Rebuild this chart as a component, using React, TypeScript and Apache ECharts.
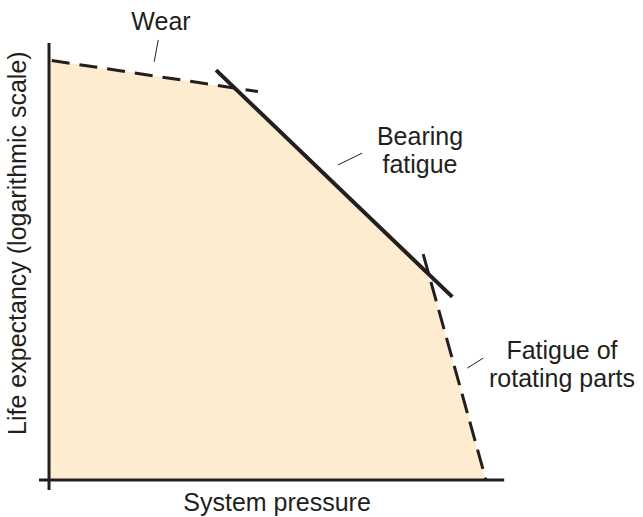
import React, { useEffect, useRef } from "react";
import * as echarts from "echarts";

// Conceptual units: pressure 0..100 (x), life expectancy 0..100 (y)
const envelope: [number, number][] = [
  [0, 96.1],
  [40.9, 89.7],
  [83.3, 47.6],
  [96.0, 0],
];
const wearLine: [number, number][] = [
  [0.6, 96.0],
  [45.9, 88.9],
];
const bearingLine: [number, number][] = [
  [36.7, 93.8],
  [88.6, 41.9],
];
const rotatingLine: [number, number][] = [
  [82.2, 51.7],
  [96.0, 0],
];
const xAxisLine: [number, number][] = [
  [-2.2, 0],
  [100, 0],
];
const yAxisLine: [number, number][] = [
  [0, -2.3],
  [0, 100],
];
const leaderWear: [number, number][] = [
  [24.0, 100.7],
  [23.1, 95.7],
];
const leaderBearing: [number, number][] = [
  [63.5, 72.1],
  [68.8, 74.8],
];
const leaderRotating: [number, number][] = [
  [91.9, 25.6],
  [95.4, 27.9],
];
const labels = [
  { text: "Wear", at: [24.6, 105.0], rot: 0, lh: 28 },
  { text: "Bearing\nfatigue", at: [81.5, 75.4], rot: 0, lh: 28 },
  { text: "Fatigue of\nrotating parts", at: [112.7, 26.5], rot: 0, lh: 28 },
  { text: "System pressure", at: [50.1, -5.0], rot: 0, lh: 28 },
  { text: "Life expectancy (logarithmic scale)", at: [-7.0, 54.2], rot: Math.PI / 2, lh: 28 },
];

const INK = "#231f20";
const FILL = "#fdecd0";
const FONT = "'Liberation Sans', Arial, sans-serif";

export default function App() {
  const ref = useRef<HTMLDivElement>(null);
  useEffect(() => {
    if (!ref.current) return;
    const chart = echarts.init(ref.current, undefined, { renderer: "svg" });
    const lineSeries = (data: [number, number][], width: number, type: any, z = 3) => ({
      type: "line",
      data,
      symbol: "none",
      silent: true,
      z,
      lineStyle: { color: INK, width, type, cap: "butt" },
    });
    chart.setOption({
      animation: false,
      grid: { left: 0, right: 0, top: 0, bottom: 0 },
      xAxis: { type: "value", min: -10.77, max: 130.5, show: false },
      yAxis: { type: "value", min: -8.47, max: 109.84, show: false },
      series: [
        {
          type: "line",
          data: envelope,
          symbol: "none",
          silent: true,
          z: 1,
          lineStyle: { width: 0 },
          areaStyle: { color: FILL, opacity: 1 },
        },
        lineSeries(wearLine, 3, [18, 10]),
        lineSeries(rotatingLine, 3, [20, 9]),
        lineSeries(bearingLine, 4, "solid", 4),
        lineSeries(xAxisLine, 3, "solid", 5),
        lineSeries(yAxisLine, 3, "solid", 5),
        lineSeries(leaderWear, 1, "solid"),
        lineSeries(leaderBearing, 1, "solid"),
        lineSeries(leaderRotating, 1, "solid"),
      ],
    });
    const graphics = labels.map((l) => {
      const p = chart.convertToPixel({ gridIndex: 0 }, l.at) as number[];
      return {
        type: "text",
        x: p[0],
        y: p[1],
        rotation: l.rot,
        style: {
          text: l.text,
          font: `25px ${FONT}`,
          fill: INK,
          align: "center",
          verticalAlign: "middle",
          lineHeight: l.lh,
        },
      };
    });
    chart.setOption({ graphic: graphics });
    return () => chart.dispose();
  }, []);
  return (
    <div
      ref={ref}
      style={{ position: "fixed", left: 0, top: 0, width: 643, height: 517, background: "#fff" }}
    />
  );
}
